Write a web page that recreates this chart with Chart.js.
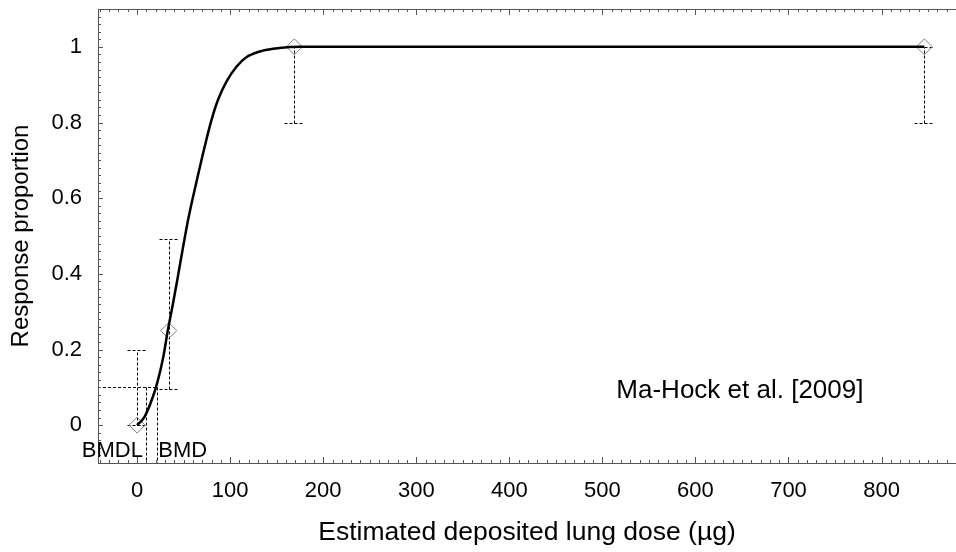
<!DOCTYPE html>
<html>
<head>
<meta charset="utf-8">
<script src="https://cdn.jsdelivr.net/npm/chart.js@4.4.1/dist/chart.umd.min.js"></script>
<style>
  html, body { margin: 0; padding: 0; background: #fff; }
  #wrap { width: 956px; height: 552px; }
</style>
</head>
<body>
<div id="wrap"><canvas id="chart" width="956" height="552"></canvas></div>
<script>
// 観測データ（用量 µg と反応割合）
const doses = [0, 34, 169, 846];
const responses = [0, 0.25, 1, 1];
const ciLower = [0, 0.096, 0.8, 0.8];
const ciUpper = [0.2, 0.493, 1, 1];

// フィット曲線（図から読み取った点）
const curveX = [0, 8, 17, 22, 28, 33, 38.5, 44, 49, 55, 64, 73, 80, 87, 96, 107, 117, 135, 153, 175, 846];
const curveY = [0, 0.022, 0.075, 0.115, 0.178, 0.25, 0.32, 0.395, 0.465, 0.545, 0.645, 0.74, 0.807, 0.86, 0.908, 0.948, 0.972, 0.99, 0.997, 1, 1];

// BMR / BMDL / BMD
const bmr = 0.1;
const bmdl = 9.5;
const bmd = 21.7;

// 目盛り
const xTicks = [0, 100, 200, 300, 400, 500, 600, 700, 800];
const yTicks = [0, 0.2, 0.4, 0.6, 0.8, 1];
const xMin = -42, xMax = 880, yMin = -0.1, yMax = 1.1;

const FONT = "'Liberation Sans', Arial, sans-serif";
const AXIS_COLOR = '#555';

// 軸ラベル分の自動余白を消す
function noPadding(scale) {
  scale.paddingTop = 0;
  scale.paddingBottom = 0;
  scale.paddingLeft = 0;
  scale.paddingRight = 0;
}

// エラーバー・BMD線・内向き目盛り・注記
const extras = {
  id: 'extras',
  beforeDatasetsDraw(chart) {
    const { ctx, scales: { x, y } } = chart;
    ctx.save();
    ctx.strokeStyle = '#000';
    ctx.lineWidth = 1;
    ctx.setLineDash([3, 2]);

    doses.forEach(function(d, i) {
      const px = Math.round(x.getPixelForValue(d)) + 0.5;
      const lo = Math.round(y.getPixelForValue(ciLower[i])) + 0.5;
      const hi = Math.round(y.getPixelForValue(ciUpper[i])) + 0.5;
      ctx.beginPath();
      ctx.moveTo(px, lo); ctx.lineTo(px, hi);
      ctx.moveTo(px - 10, hi); ctx.lineTo(px + 10, hi);
      ctx.moveTo(px - 10, lo); ctx.lineTo(px + 10, lo);
      ctx.stroke();
    });

    const yb = Math.round(y.getPixelForValue(bmr)) + 0.5;
    const xl = Math.round(x.getPixelForValue(bmdl)) + 0.5;
    const xd = Math.round(x.getPixelForValue(bmd)) + 0.5;
    const bottom = y.getPixelForValue(yMin);
    ctx.beginPath();
    ctx.moveTo(x.getPixelForValue(xMin), yb); ctx.lineTo(xd, yb);
    ctx.moveTo(xd, yb); ctx.lineTo(xd, bottom);
    ctx.moveTo(xl, yb); ctx.lineTo(xl, bottom);
    ctx.stroke();
    ctx.restore();
  },
  afterDraw(chart) {
    const { ctx, chartArea: area, scales: { x, y } } = chart;
    ctx.save();
    ctx.strokeStyle = AXIS_COLOR;
    ctx.lineWidth = 1;

    // 上枠
    ctx.beginPath();
    ctx.moveTo(area.left, area.top + 0.5);
    ctx.lineTo(area.right, area.top + 0.5);
    ctx.stroke();

    // x 目盛り（上下とも内向き）
    ctx.beginPath();
    for (let v = -40; v <= xMax; v += 10) {
      const px = Math.round(x.getPixelForValue(v)) + 0.5;
      const len = v % 100 === 0 ? 6 : 3;
      ctx.moveTo(px, area.bottom); ctx.lineTo(px, area.bottom - len);
      ctx.moveTo(px, area.top); ctx.lineTo(px, area.top + len);
    }
    // y 目盛り
    for (let k = -5; k <= 55; k++) {
      const py = Math.round(y.getPixelForValue(k * 0.02)) + 0.5;
      const len = k % 10 === 0 ? 5 : 3;
      ctx.moveTo(area.left, py); ctx.lineTo(area.left + len, py);
    }
    ctx.stroke();

    // BMDL / BMD ラベル
    ctx.fillStyle = '#000';
    ctx.font = '22px ' + FONT;
    ctx.textBaseline = 'alphabetic';
    const ly = y.getPixelForValue(yMin) - 6;
    ctx.textAlign = 'right';
    ctx.fillText('BMDL', x.getPixelForValue(bmdl) - 3, ly);
    ctx.textAlign = 'left';
    ctx.fillText('BMD', x.getPixelForValue(bmd) + 1, ly);

    // 出典
    ctx.font = '26px ' + FONT;
    ctx.fillText('Ma-Hock et al. [2009]', x.getPixelForValue(515), y.getPixelForValue(0.072));
    ctx.restore();
  }
};

const ctx = document.getElementById('chart').getContext('2d');
new Chart(ctx, {
  type: 'scatter',
  data: {
    datasets: [{
      type: 'line',
      data: curveX.map((v, i) => ({ x: v, y: curveY[i] })),
      borderColor: '#000',
      borderWidth: 2.5,
      pointRadius: 0,
      cubicInterpolationMode: 'monotone',
      fill: false
    }, {
      data: doses.map((v, i) => ({ x: v, y: responses[i] })),
      pointStyle: 'rectRot',
      pointRadius: 8,
      borderColor: '#808080',
      borderWidth: 1,
      backgroundColor: 'rgba(0,0,0,0)'
    }]
  },
  options: {
    responsive: false,
    animation: false,
    layout: { autoPadding: false, padding: { top: 9, right: 0, bottom: 0, left: 0 } },
    plugins: { legend: { display: false }, tooltip: { enabled: false } },
    scales: {
      x: {
        type: 'linear',
        min: xMin,
        max: xMax,
        afterBuildTicks: function(scale) { scale.ticks = xTicks.map(v => ({ value: v })); },
        afterFit: function(scale) { scale.height = 89; noPadding(scale); },
        grid: { drawOnChartArea: false, drawTicks: false },
        border: { display: true, color: AXIS_COLOR, width: 1 },
        ticks: {
          padding: 15,
          color: '#000',
          font: { family: FONT, size: 22 },
          maxRotation: 0,
          callback: v => String(v)
        },
        title: {
          display: true,
          text: 'Estimated deposited lung dose (µg)',
          color: '#000',
          font: { family: FONT, size: 26.5 },
          padding: { top: 0, bottom: 3 }
        }
      },
      y: {
        type: 'linear',
        min: yMin,
        max: yMax,
        afterBuildTicks: function(scale) { scale.ticks = yTicks.map(v => ({ value: v })); },
        afterFit: function(scale) { scale.width = 98; noPadding(scale); },
        grid: { drawOnChartArea: false, drawTicks: false },
        border: { display: true, color: AXIS_COLOR, width: 1 },
        ticks: {
          padding: 16,
          color: '#000',
          font: { family: FONT, size: 22 },
          callback: v => String(v)
        },
        title: {
          display: true,
          text: 'Response proportion',
          color: '#000',
          font: { family: FONT, size: 24 },
          padding: { top: 7, bottom: 0 }
        }
      }
    }
  },
  plugins: [extras]
});
</script>
</body>
</html>
